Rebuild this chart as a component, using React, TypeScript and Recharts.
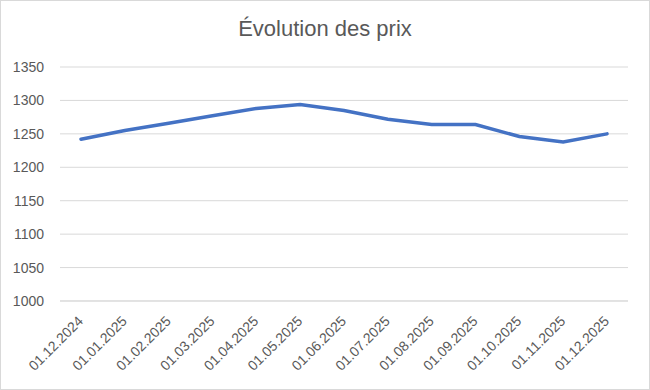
import { LineChart, Line, XAxis, YAxis, CartesianGrid } from "recharts"

const dates = [
  "01.12.2024", "01.01.2025", "01.02.2025", "01.03.2025", "01.04.2025",
  "01.05.2025", "01.06.2025", "01.07.2025", "01.08.2025", "01.09.2025",
  "01.10.2025", "01.11.2025", "01.12.2025",
]
const prices = [1242, 1255, 1266, 1277, 1288, 1294, 1285, 1272, 1264, 1264, 1246, 1238, 1250]
const yTicks = [1000, 1050, 1100, 1150, 1200, 1250, 1300, 1350]

const data = dates.map((date, i) => ({ date, price: prices[i] }))

const textColor = "#595959"
const font = "'Liberation Sans', Arial, sans-serif"

const DateTick = (props: any) => {
  const { x, y, payload } = props
  return (
    <g transform={`translate(${x + 3},${y + 13})`}>
      <text
        transform="rotate(-45)"
        textAnchor="end"
        fill={textColor}
        fontSize={14}
        fontFamily={font}
      >
        {payload.value}
      </text>
    </g>
  )
}

export default function App() {
  return (
    <div
      style={{
        position: "fixed",
        top: 0,
        left: 0,
        width: 650,
        height: 390,
        boxSizing: "border-box",
        border: "1px solid #d9d9d9",
        background: "#fff",
      }}
    >
      <div
        style={{
          position: "absolute",
          top: 15,
          width: "100%",
          textAlign: "center",
          fontFamily: font,
          fontSize: 22,
          color: textColor,
        }}
      >
        Évolution des prix
      </div>
      <div style={{ position: "absolute", top: -1, left: -1 }}>
        <LineChart
          width={650}
          height={390}
          data={data}
          margin={{ top: 67, right: 22, bottom: 0, left: 0 }}
        >
          <CartesianGrid vertical={false} stroke="#d9d9d9" />
          <XAxis
            dataKey="date"
            interval={0}
            height={89}
            tickLine={false}
            axisLine={{ stroke: "#d9d9d9" }}
            tick={<DateTick />}
            padding={{ left: 21, right: 21 }}
          />
          <YAxis
            width={60}
            domain={[1000, 1350]}
            ticks={yTicks}
            tickLine={false}
            axisLine={false}
            tickMargin={10}
            tick={{ fill: textColor, fontSize: 14, fontFamily: font }}
          />
          <Line
            type="linear"
            dataKey="price"
            stroke="#4472c4"
            strokeWidth={3.5}
            dot={false}
            strokeLinecap="round"
            isAnimationActive={false}
          />
        </LineChart>
      </div>
    </div>
  )
}
